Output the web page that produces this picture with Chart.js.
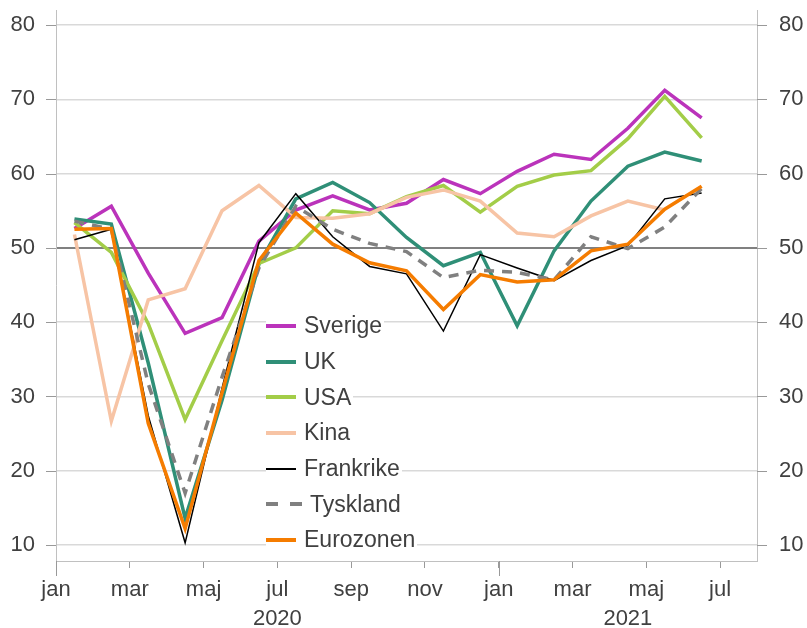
<!DOCTYPE html>
<html>
<head>
<meta charset="utf-8">
<script src="https://cdn.jsdelivr.net/npm/chart.js@4.4.0/dist/chart.umd.min.js"></script>
<style>
  html, body { margin: 0; padding: 0; background: #fff; }
  #wrap { position: relative; width: 807px; height: 628px; }
  #legend { position: absolute; left: 266px; top: 308px; font-family: "Liberation Sans", Arial, sans-serif; font-size: 23px; color: #404040; }
  .item { display: flex; align-items: center; width: max-content; height: 35.7px; background: #fff; padding-right: 2px; }
  .swatch { width: 30px; margin-right: 8px; }
</style>
</head>
<body>
<div id="wrap">
  <canvas id="chart" width="807" height="628"></canvas>
  <div id="legend"></div>
</div>
<script>
// months from jan 2020, one value per month (mid-month)
const monthNames = ['jan', 'feb', 'mar', 'apr', 'maj', 'jun', 'jul', 'aug', 'sep', 'okt', 'nov', 'dec'];
const yearLabels = ['2020', '2021'];
const yTicks = [10, 20, 30, 40, 50, 60, 70, 80];

const sverige   = [52.6, 55.6, 46.6, 38.5, 40.6, 50.9, 55.1, 57.0, 55.1, 56.0, 59.2, 57.3, 60.3, 62.6, 61.9, 66.1, 71.2, 67.5];
const uk        = [53.9, 53.2, 34.5, 13.6, 29.5, 47.8, 56.6, 58.8, 56.1, 51.4, 47.6, 49.4, 39.5, 49.6, 56.3, 61.0, 62.9, 61.7];
const usa       = [53.4, 49.4, 39.8, 26.9, 37.5, 47.9, 50.0, 55.0, 54.6, 56.9, 58.4, 54.8, 58.3, 59.8, 60.4, 64.7, 70.4, 64.8];
const kina      = [51.8, 26.7, 43.0, 44.5, 55.0, 58.4, 54.1, 54.0, 54.6, 56.8, 57.8, 56.3, 52.0, 51.5, 54.3, 56.3, 55.1, null];
const frankrike = [51.1, 52.5, 27.4, 10.3, 31.1, 50.7, 57.3, 51.5, 47.5, 46.5, 38.8, 49.1, 47.3, 45.6, 48.3, 50.3, 56.6, 57.4];
const tyskland  = [53.6, 52.5, 31.7, 17.0, 32.6, 47.3, 55.6, 52.5, 50.6, 49.5, 46.0, 47.0, 46.7, 45.7, 51.5, 49.9, 52.8, 58.0];
const eurozonen = [52.5, 52.6, 26.4, 12.2, 30.5, 48.3, 54.7, 50.5, 48.0, 46.9, 41.7, 46.4, 45.4, 45.7, 49.6, 50.5, 55.2, 58.3];

const TEXT = '#404040';
const AXIS = '#c0c0c0';
const TICK = '#999999';
const FONT = '"Liberation Sans", Arial, sans-serif';
const Y_MIN = 7.85, Y_MAX = 82.02;

const series = [
  { label: 'Sverige',   data: sverige,   color: '#bb33bb', width: 3.5 },
  { label: 'UK',        data: uk,        color: '#2f8f77', width: 3.5 },
  { label: 'USA',       data: usa,       color: '#a3cd48', width: 3.5 },
  { label: 'Kina',      data: kina,      color: '#f7c4a5', width: 3.5 },
  { label: 'Frankrike', data: frankrike, color: '#000000', width: 1.5 },
  { label: 'Tyskland',  data: tyskland,  color: '#808080', width: 3.5, dash: [10, 8] },
  { label: 'Eurozonen', data: eurozonen, color: '#f57c00', width: 3.5 },
];

const toPoints = arr => arr.map((v, i) => ({ x: i + 0.5, y: v }));

// tick marks on both value axes, longer tick at each january, year labels
const axisPlugin = {
  id: 'axisExtras',
  afterDraw(chart) {
    const { ctx, scales: { x, y }, chartArea } = chart;
    ctx.save();
    ctx.strokeStyle = TICK;
    ctx.lineWidth = 1;
    ctx.beginPath();
    yTicks.forEach(v => {
      const py = Math.round(y.getPixelForValue(v)) + 0.5;
      ctx.moveTo(chartArea.left - 10, py);
      ctx.lineTo(chartArea.left, py);
      ctx.moveTo(chartArea.right, py);
      ctx.lineTo(chartArea.right + 10, py);
    });
    [0, 12].forEach(m => {
      const px = Math.round(x.getPixelForValue(m)) + 0.5;
      ctx.moveTo(px, chartArea.bottom);
      ctx.lineTo(px, chartArea.bottom + 15);
    });
    ctx.stroke();
    ctx.fillStyle = TEXT;
    ctx.font = '22px ' + FONT;
    ctx.textAlign = 'center';
    ctx.textBaseline = 'middle';
    ctx.fillText(yearLabels[0], x.getPixelForValue(6), 619);
    ctx.fillText(yearLabels[1], x.getPixelForValue(15.5), 619);
    ctx.restore();
  }
};

const valueTicks = { color: TEXT, font: { size: 22, family: FONT, lineHeight: 0.91 }, padding: 0 };

new Chart(document.getElementById('chart'), {
  type: 'line',
  data: {
    datasets: series.map((s, i) => ({
      label: s.label,
      data: toPoints(s.data),
      borderColor: s.color,
      backgroundColor: s.color,
      borderWidth: s.width,
      borderDash: s.dash || [],
      pointRadius: 0,
      tension: 0,
      fill: false,
      order: series.length - 1 - i,
    })),
  },
  options: {
    responsive: false,
    animation: false,
    devicePixelRatio: 1,
    layout: { padding: 0 },
    plugins: { legend: { display: false }, tooltip: { enabled: false } },
    scales: {
      x: {
        type: 'linear',
        min: 0, max: 19,
        afterBuildTicks: s => { s.ticks = [0, 2, 4, 6, 8, 10, 12, 14, 16, 18].map(v => ({ value: v })); },
        afterFit: s => { s.height = 67; },
        ticks: { callback: v => monthNames[v % 12], color: TEXT, font: { size: 22, family: FONT }, padding: 9, maxRotation: 0, autoSkip: false },
        grid: { drawOnChartArea: false, drawTicks: true, tickLength: 7, tickColor: TICK },
        border: { display: true, color: AXIS, width: 1 },
      },
      y: {
        position: 'left',
        min: Y_MIN, max: Y_MAX,
        afterBuildTicks: s => { s.ticks = yTicks.map(v => ({ value: v })); },
        afterFit: s => { s.width = 56; },
        ticks: valueTicks,
        grid: {
          color: c => c.tick && c.tick.value === 50 ? '#808080' : '#d9d9d9',
          lineWidth: c => c.tick && c.tick.value === 50 ? 2 : 1.5,
          tickColor: 'rgba(0,0,0,0)', tickLength: 21,
        },
        border: { display: true, color: AXIS, width: 1 },
      },
      y2: {
        position: 'right',
        min: Y_MIN, max: Y_MAX,
        afterBuildTicks: s => { s.ticks = yTicks.map(v => ({ value: v })); },
        afterFit: s => { s.width = 50; },
        ticks: valueTicks,
        grid: { drawOnChartArea: false, drawTicks: true, tickLength: 22, tickColor: 'rgba(0,0,0,0)' },
        border: { display: true, color: AXIS, width: 1 },
      },
    },
  },
  plugins: [axisPlugin],
});

// legend
document.getElementById('legend').innerHTML = series.map(s => {
  const sw = s.dash
    ? `<svg class="swatch" width="36" height="6" style="width:36px"><line x1="0" y1="3" x2="36" y2="3" stroke="${s.color}" stroke-width="4" stroke-dasharray="12 12"/></svg>`
    : `<span class="swatch" style="height:${s.width >= 3 ? 4 : 2}px;background:${s.color};display:inline-block"></span>`;
  return `<div class="item">${sw}<span>${s.label}</span></div>`;
}).join('');
</script>
</body>
</html>
